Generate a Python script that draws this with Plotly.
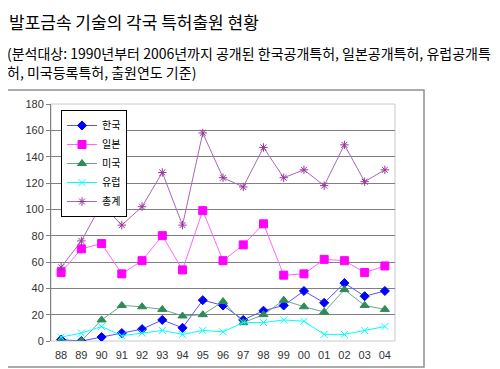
import plotly.graph_objects as go

years = ["88", "89", "90", "91", "92", "93", "94", "95", "96", "97",
         "98", "99", "00", "01", "02", "03", "04"]
korea = [1, 0, 3, 6, 9, 16, 10, 31, 27, 16, 23, 27, 38, 29, 44, 34, 38]
japan = [52, 70, 74, 51, 61, 80, 54, 99, 61, 73, 89, 50, 51, 62, 61, 52, 57]
usa = [0, 0, 16, 27, 26, 24, 19, 20, 30, 14, 20, 31, 26, 22, 39, 27, 24]
europe = [3, 6, 11, 4, 6, 8, 5, 8, 7, 14, 14, 16, 15, 5, 5, 8, 11]
total = [56, 76, 104, 88, 102, 128, 88, 158, 124, 117, 147, 124, 130, 118, 149, 121, 130]

y_ticks = [0, 20, 40, 60, 80, 100, 120, 140, 160, 180]

title = "발포금속 기술의 각국 특허출원 현황"
sub1 = "(분석대상: 1990년부터 2006년까지 공개된 한국공개특허, 일본공개특허, 유럽공개특"
sub2 = "허, 미국등록특허, 출원연도 기준)"

series = [
    ("한국", korea, "#0000FF", "#5555FF", "diamond", 7),
    ("일본", japan, "#FF00FF", "#FF66FF", "square", 8),
    ("미국", usa, "#2E8B57", "#66AA88", "triangle-up", 8),
    ("유럽", europe, "#00FFFF", "#00FFFF", "x-thin-open", 7),
    ("총계", total, "#993399", "#AA66BB", "asterisk-open", 7),
]

fig = go.Figure()
for name, vals, mc, lc, sym, sz in series:
    fig.add_trace(go.Scatter(
        x=years, y=vals, name=name, mode="lines+markers",
        line=dict(color=lc, width=1),
        marker=dict(symbol=sym, size=sz, color=mc, line=dict(color=mc, width=1)),
    ))

# the page body has an 8px margin, so the figure is placed at (8, 8) in the window
OFF = 8
W, H = 500 - OFF, 369 - OFF
L, R, T, B = 51 - OFF, 395 - OFF, 104 - OFF, 341 - OFF

def px(x):
    return (x - OFF - L) / (R - L)

def py(y):
    return (B - (y - OFF)) / (B - T)

fig.update_layout(
    width=W, height=H,
    margin=dict(l=L, r=W - R, t=T, b=H - B),
    paper_bgcolor="white", plot_bgcolor="white",
    font=dict(family="Noto Sans CJK KR", size=11, color="#222"),
    showlegend=True,
    legend=dict(
        x=px(61), y=py(110), xanchor="left", yanchor="top",
        bgcolor="white", bordercolor="#000", borderwidth=1,
        font=dict(family="Noto Sans CJK KR", size=10, color="#000"),
        itemwidth=30, tracegroupgap=0,
    ),
    xaxis=dict(
        type="category", showgrid=False, showline=False, zeroline=False,
        automargin=False,
        tickfont=dict(family="Liberation Sans", size=11, color="#333"),
        ticks="", ticklabelstandoff=6, range=[-0.5, len(years) - 0.5],
    ),
    yaxis=dict(
        range=[0, 180], tickvals=y_ticks, showgrid=True, automargin=False,
        gridcolor="#808080", gridwidth=1, zeroline=False,
        showline=True, linecolor="#808080", linewidth=1,
        ticks="outside", ticklen=4, tickcolor="#808080",
        tickfont=dict(family="Liberation Sans", size=11, color="#333"),
    ),
    shapes=[
        # page border (right side)
        dict(type="line", xref="paper", yref="paper", x0=px(497), x1=px(497), y0=py(9), y1=py(368),
             line=dict(color="#808080", width=2)),
        # chart box
        dict(type="rect", xref="paper", yref="paper", x0=px(7), x1=px(424), y0=py(90), y1=py(367),
             line=dict(color="#909090", width=1.5), layer="below"),
        # plot area border
        dict(type="rect", xref="paper", yref="paper", x0=0, x1=1, y0=0, y1=1,
             line=dict(color="#C8C8C8", width=1), layer="below"),
    ],
    annotations=[
        dict(text=title, xref="paper", yref="paper", x=px(7), y=py(21), xanchor="left",
             yanchor="middle", showarrow=False,
             font=dict(family="Noto Sans CJK KR", size=17, color="#000")),
        dict(text=sub1, xref="paper", yref="paper", x=px(5), y=py(53), xanchor="left",
             yanchor="middle", showarrow=False,
             font=dict(family="Noto Sans CJK KR", size=14, color="#000")),
        dict(text=sub2, xref="paper", yref="paper", x=px(5), y=py(72), xanchor="left",
             yanchor="middle", showarrow=False,
             font=dict(family="Noto Sans CJK KR", size=14, color="#000")),
    ],
)

fig.write_html("out.html")
